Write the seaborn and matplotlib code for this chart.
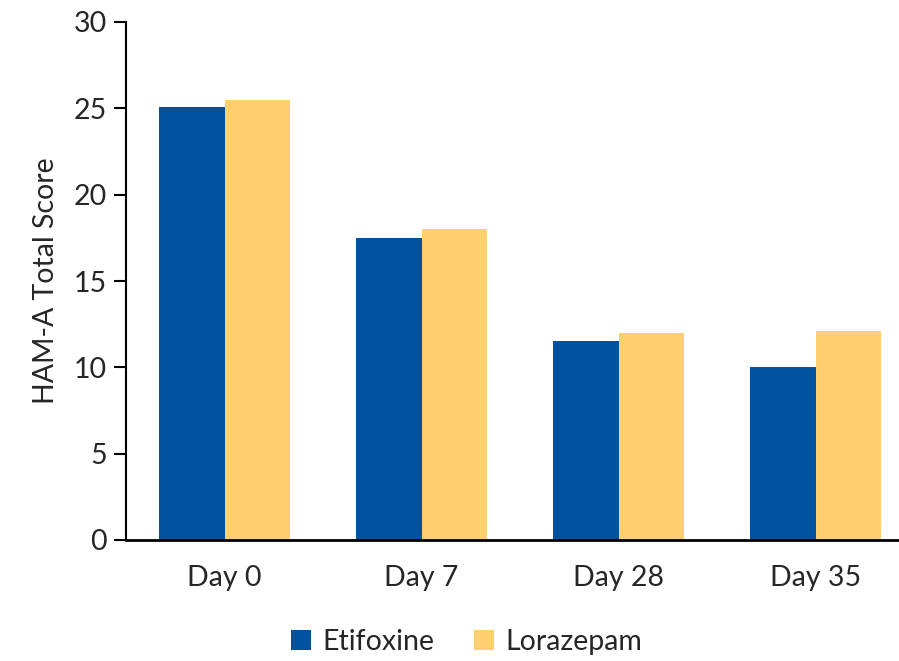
import matplotlib
matplotlib.use("Agg")
import matplotlib.pyplot as plt
import seaborn as sns
import pandas as pd
from matplotlib.patches import Patch

days = ["Day 0", "Day 7", "Day 28", "Day 35"]
etifoxine = [25.1, 17.5, 11.5, 10.0]
lorazepam = [25.5, 18.0, 12.0, 12.1]
series_names = ["Etifoxine", "Lorazepam"]
colors = ["#00519E", "#FFCF70"]

df = pd.DataFrame({
    "Day": days * 2,
    "Score": etifoxine + lorazepam,
    "Treatment": [series_names[0]] * 4 + [series_names[1]] * 4,
})

sns.set_theme(style="white")
plt.rcParams["font.family"] = ["Lato", "DejaVu Sans"]

fs = 20.5
fig = plt.figure(figsize=(8.99, 6.61), dpi=100)
ax = fig.add_axes([126 / 899, 1 - 540 / 661, 788 / 899, 518 / 661])

sns.barplot(data=df, x="Day", y="Score", hue="Treatment", order=days,
            hue_order=series_names, palette=colors, width=0.67,
            saturation=1, ax=ax, legend=False, linewidth=0)

ax.set_ylim(0, 30)
ax.set_xlim(-0.5, 3.5)
ax.set_yticks([0, 5, 10, 15, 20, 25, 30])
ax.set_xlabel("")
ax.set_ylabel("HAM-A Total Score", fontsize=fs, labelpad=10)
ax.tick_params(axis="y", labelsize=fs, length=9, width=1.5, color="black",
               direction="out", left=True, pad=5)
ax.tick_params(axis="x", labelsize=fs, length=0, pad=18)

for side in ["top", "right"]:
    ax.spines[side].set_visible(False)
ax.spines["left"].set_color("black")
ax.spines["left"].set_linewidth(1.5)
ax.spines["bottom"].set_color("black")
ax.spines["bottom"].set_linewidth(2)

handles = [Patch(facecolor=c, edgecolor="none", label=n)
           for c, n in zip(colors, series_names)]
fig.legend(handles=handles, loc="center", bbox_to_anchor=(467 / 899, 1 - 642 / 661),
           ncol=2, frameon=False, fontsize=fs, handlelength=0.7, handleheight=0.7,
           handletextpad=0.4, columnspacing=1.4)

fig.savefig("out.png", dpi=100)
